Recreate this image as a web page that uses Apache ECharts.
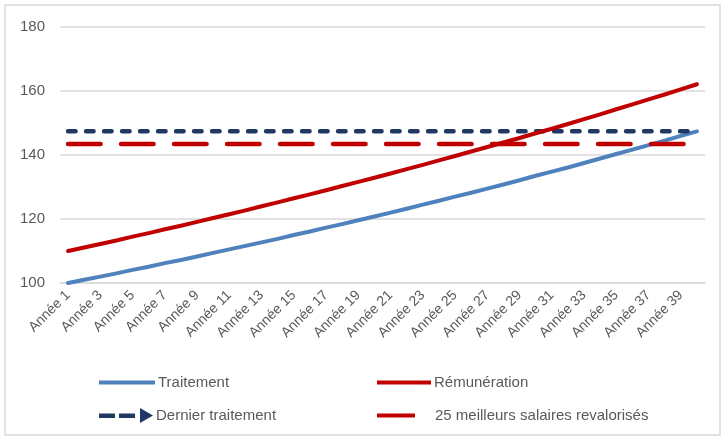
<!DOCTYPE html>
<html>
<head>
<meta charset="utf-8">
<script src="https://cdn.jsdelivr.net/npm/echarts@6/dist/echarts.min.js"></script>
<style>
  html, body { margin: 0; padding: 0; background: #ffffff; }
  #chart { width: 724px; height: 439px; }
</style>
</head>
<body>
<div id="chart"></div>
<script>
// Années de carrière (1 à 40)
const categories = [
  'Année 1','Année 2','Année 3','Année 4','Année 5','Année 6','Année 7','Année 8','Année 9','Année 10',
  'Année 11','Année 12','Année 13','Année 14','Année 15','Année 16','Année 17','Année 18','Année 19','Année 20',
  'Année 21','Année 22','Année 23','Année 24','Année 25','Année 26','Année 27','Année 28','Année 29','Année 30',
  'Année 31','Année 32','Année 33','Année 34','Année 35','Année 36','Année 37','Année 38','Année 39','Année 40'
];

// Indice du traitement (base 100 en année 1)
const traitement = [
  100.0, 101.0, 102.0, 103.0, 104.1, 105.1, 106.2, 107.2, 108.3, 109.4,
  110.5, 111.6, 112.7, 113.8, 115.0, 116.1, 117.3, 118.4, 119.6, 120.8,
  122.0, 123.2, 124.5, 125.7, 127.0, 128.2, 129.5, 130.8, 132.1, 133.5,
  134.8, 136.1, 137.5, 138.9, 140.3, 141.7, 143.1, 144.5, 146.0, 147.4
];

// Indice de la rémunération totale
const remuneration = [
  110.0, 111.1, 112.2, 113.3, 114.5, 115.6, 116.8, 117.9, 119.1, 120.3,
  121.5, 122.7, 124.0, 125.2, 126.5, 127.7, 129.0, 130.3, 131.6, 132.9,
  134.2, 135.6, 136.9, 138.3, 139.7, 141.1, 142.5, 143.9, 145.3, 146.8,
  148.2, 149.7, 151.2, 152.7, 154.3, 155.8, 157.4, 158.9, 160.5, 162.1
];

// Niveaux de référence (constants sur toute la carrière)
const dernierTraitement = [147.4, 147.4];
const meilleursSalaires = [143.4, 143.4];

// Graduations de l'axe des ordonnées
const yTicks = [100, 120, 140, 160, 180];

const seriesNames = ['Traitement', 'Rémunération', 'Dernier traitement', '25 meilleurs salaires revalorisés'];

const FONT = '"Liberation Sans", Arial, sans-serif';
const TEXT_COLOR = '#595959';
const GRID_COLOR = '#d9d9d9';
const BLUE = '#4F81BD';
const RED = '#C00000';
const NAVY = '#203864';

const firstCat = categories[0];
const lastCat = categories[categories.length - 1];

const chart = echarts.init(document.getElementById('chart'), null, { renderer: 'canvas' });

function legendAt(name, left, top, icon, width, height, textPad) {
  return {
    left: left, top: top, padding: 0,
    itemWidth: width, itemHeight: height,
    symbolKeepAspect: false,
    selectedMode: false,
    data: [{ name: name, icon: icon }],
    textStyle: { fontFamily: FONT, fontSize: 15, color: TEXT_COLOR, padding: [0, 0, 0, textPad] }
  };
}

const arrowIcon = 'path://M0 5.5 h16 v4.5 h-16 z M20 5.5 h16 v4.5 h-16 z M41 0 L54 7.5 L41 15 z';

chart.setOption({
  animation: false,
  backgroundColor: '#ffffff',
  graphic: [{
    type: 'rect',
    shape: { x: 5, y: 5, width: 715, height: 430 },
    style: { fill: 'none', stroke: GRID_COLOR, lineWidth: 1.5 },
    silent: true
  }],
  grid: { left: 60, right: 19, top: 27, bottom: 156, containLabel: false },
  legend: [
    legendAt(seriesNames[0], 99, 375, 'rect', 56, 4, -2),
    legendAt(seriesNames[1], 377, 375, 'rect', 54, 4, -2),
    legendAt(seriesNames[2], 99, 408, arrowIcon, 54, 15, -2),
    legendAt(seriesNames[3], 377, 408, 'rect', 38, 4, 15)
  ],
  xAxis: {
    type: 'category',
    data: categories,
    boundaryGap: true,
    axisLine: { show: true, lineStyle: { color: GRID_COLOR, width: 1.5 } },
    axisTick: { show: false },
    axisLabel: {
      interval: 1,
      rotate: 45,
      margin: 10,
      fontFamily: FONT,
      fontSize: 14,
      color: TEXT_COLOR
    },
    splitLine: { show: false }
  },
  yAxis: {
    type: 'value',
    min: yTicks[0],
    max: yTicks[yTicks.length - 1],
    interval: yTicks[1] - yTicks[0],
    axisLine: { show: false },
    axisTick: { show: false },
    axisLabel: { margin: 15, fontFamily: FONT, fontSize: 15, color: TEXT_COLOR },
    splitLine: { lineStyle: { color: GRID_COLOR, width: 1.5 } }
  },
  series: [
    {
      name: seriesNames[0],
      type: 'line',
      data: traitement,
      symbol: 'none',
      color: BLUE,
      lineStyle: { color: BLUE, width: 4, cap: 'round', join: 'round' },
      z: 2
    },
    {
      name: seriesNames[2],
      type: 'line',
      data: [
        [firstCat, dernierTraitement[0]],
        {
          value: [lastCat, dernierTraitement[1]],
          symbol: 'triangle',
          symbolSize: [15, 14],
          symbolRotate: -90,
          symbolOffset: [-7, 0],
          itemStyle: { color: NAVY, borderWidth: 0 }
        }
      ],
      symbol: 'none',
      showSymbol: true,
      color: NAVY,
      lineStyle: { color: NAVY, width: 4.5, type: [7.5, 10.5], cap: 'round' },
      z: 3
    },
    {
      name: seriesNames[1],
      type: 'line',
      data: remuneration,
      symbol: 'none',
      color: RED,
      lineStyle: { color: RED, width: 4, cap: 'round', join: 'round' },
      z: 4
    },
    {
      name: seriesNames[3],
      type: 'line',
      data: [[firstCat, meilleursSalaires[0]], [lastCat, meilleursSalaires[1]]],
      symbol: 'none',
      color: RED,
      lineStyle: { color: RED, width: 4.5, type: [32.5, 20.5], cap: 'round' },
      z: 5
    }
  ]
});
</script>
</body>
</html>
